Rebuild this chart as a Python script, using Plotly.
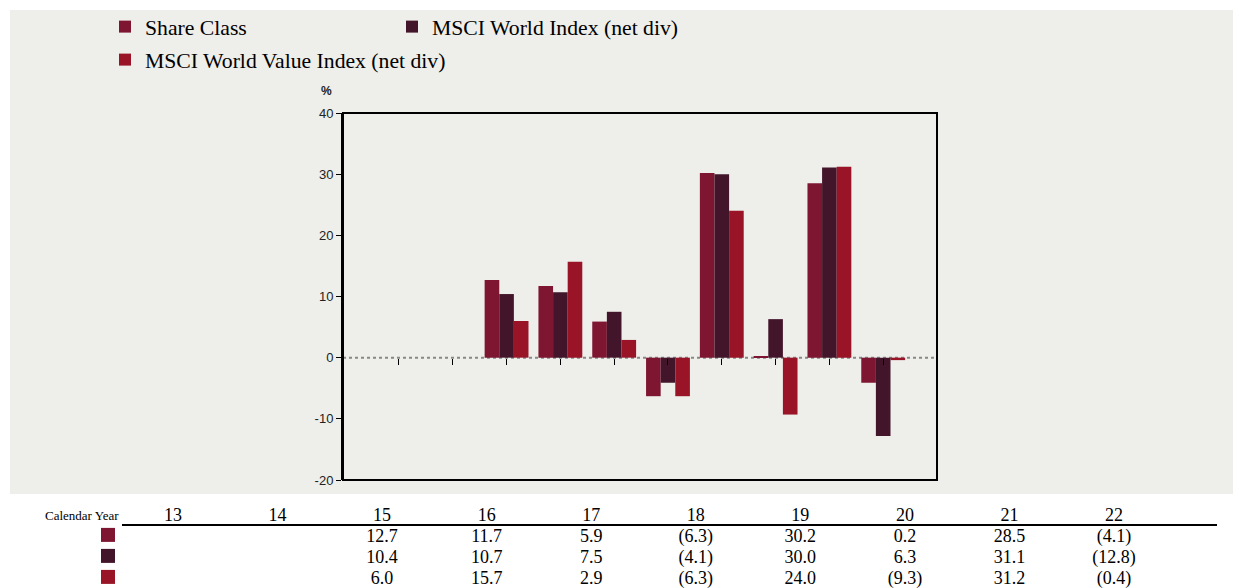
import plotly.graph_objects as go

years = ["13", "14", "15", "16", "17", "18", "19", "20", "21", "22"]
share_class = [None, None, 12.7, 11.7, 5.9, -6.3, 30.2, 0.2, 28.5, -4.1]
msci_world = [None, None, 10.4, 10.7, 7.5, -4.1, 30.0, 6.3, 31.1, -12.8]
msci_value = [None, None, 6.0, 15.7, 2.9, -6.3, 24.0, -9.3, 31.2, -0.4]
y_ticks = [-20, -10, 0, 10, 20, 30, 40]

series = [
    ("Share Class", share_class, "#7E1632"),
    ("MSCI World Index (net div)", msci_world, "#43152A"),
    ("MSCI World Value Index (net div)", msci_value, "#981426"),
]

W, H = 1241, 588
OFF = 8  # page body margin
serif = "Liberation Serif, Times New Roman, serif"
sans = "Liberation Sans, Arial, sans-serif"


def fx(px):
    return (px - OFF) / W


def fy(py):
    return 1 - (py - OFF) / H


def fmt(v):
    if v is None:
        return ""
    return f"({abs(v):.1f})" if v < 0 else f"{v:.1f}"


fig = go.Figure()

legends = ["legend", "legend", "legend2"]
for (name, vals, color), lg in zip(series, legends):
    fig.add_trace(go.Bar(x=years, y=vals, name=name, marker_color=color,
                         marker_line_width=0, legend=lg, hoverinfo="skip"))

# table under the chart (x2 unit = one year column, y2 unit = one row)
col_w = 104.56
first_col = 173
for i, (name, vals, color) in enumerate(series):
    row = i + 1
    fig.add_trace(go.Scatter(x=list(range(len(years))), y=[row] * len(years),
                             text=[fmt(v) for v in vals], mode="text",
                             textfont=dict(family=serif, size=18, color="black"),
                             xaxis="x2", yaxis="y2", showlegend=False, hoverinfo="skip"))
    fig.add_trace(go.Scatter(x=[(108 - first_col) / col_w], y=[row - 0.1], mode="markers",
                             marker=dict(symbol="square", size=14, color=color),
                             xaxis="x2", yaxis="y2", showlegend=False, hoverinfo="skip"))
fig.add_trace(go.Scatter(x=list(range(len(years))), y=[0] * len(years), text=years,
                         mode="text", textfont=dict(family=serif, size=18, color="black"),
                         xaxis="x2", yaxis="y2", showlegend=False, hoverinfo="skip"))

ydom = [fy(480), fy(113)]
zero_pos = ydom[0] + (ydom[1] - ydom[0]) * 20 / 60
row_h = 21
tab_top = 497
row0 = 516
tab_span = (H + OFF - tab_top) / row_h
y2_top = -(row0 - tab_top) / row_h

fig.update_layout(
    width=W, height=H,
    margin=dict(l=0, r=0, t=0, b=0, autoexpand=False),
    paper_bgcolor="white", plot_bgcolor="rgba(0,0,0,0)",
    barmode="group", bargap=0.185, bargroupgap=0,
    xaxis=dict(domain=[fx(343), fx(937)], type="category", range=[-1.04, 10],
               anchor="free", position=zero_pos, showline=False, showgrid=False,
               zeroline=False, ticks="outside", ticklen=6, tickcolor="black",
               tickwidth=1, showticklabels=False),
    yaxis=dict(domain=ydom, range=[-20, 40], tickvals=y_ticks,
               ticktext=[str(v) for v in y_ticks], showgrid=False, zeroline=False,
               showline=True, linecolor="black", linewidth=2, ticks="outside",
               ticklen=5, tickcolor="black",
               tickfont=dict(family=sans, size=13, color="#222")),
    xaxis2=dict(domain=[0, 1], range=[(OFF - first_col) / col_w, (W + OFF - first_col) / col_w],
                visible=False, anchor="y2"),
    yaxis2=dict(domain=[0, fy(tab_top)], range=[y2_top + tab_span, y2_top],
                visible=False, anchor="x2"),
    legend=dict(orientation="h", x=fx(105), y=fy(6), xanchor="left", yanchor="top",
                entrywidth=242, bgcolor="rgba(0,0,0,0)",
                font=dict(family=serif, size=21.7, color="black")),
    legend2=dict(orientation="h", x=fx(105), y=fy(39), xanchor="left", yanchor="top",
                 bgcolor="rgba(0,0,0,0)",
                 font=dict(family=serif, size=21.7, color="black")),
    showlegend=True,
    shapes=[
        dict(type="rect", xref="paper", yref="paper", x0=fx(10), x1=1.02,
             y0=fy(494), y1=fy(10), fillcolor="#EEEEEA", line_width=0, layer="below"),
        dict(type="line", xref="x domain", yref="y", x0=0, x1=1, y0=0, y1=0,
             line=dict(color="#888", width=2, dash="dot"), layer="below"),
        dict(type="rect", xref="x domain", yref="y domain", x0=0, x1=1, y0=0, y1=1,
             line=dict(color="black", width=2), layer="above"),
        dict(type="line", xref="x2", yref="y2", x0=(122 - first_col) / col_w,
             x1=(1217 - first_col) / col_w, y0=(525 - row0) / row_h, y1=(525 - row0) / row_h,
             line=dict(color="black", width=2)),
    ],
    annotations=[
        dict(text="<b>%</b>", xref="paper", yref="paper", x=fx(327), y=fy(91),
             xanchor="center", yanchor="middle", showarrow=False,
             font=dict(family=sans, size=12, color="#222")),
        dict(text="Calendar Year", xref="x2", yref="y2", x=(121 - first_col) / col_w,
             y=(515 - row0) / row_h, xanchor="right", showarrow=False,
             font=dict(family=serif, size=13, color="black")),
    ],
)

fig.write_html("out.html")
